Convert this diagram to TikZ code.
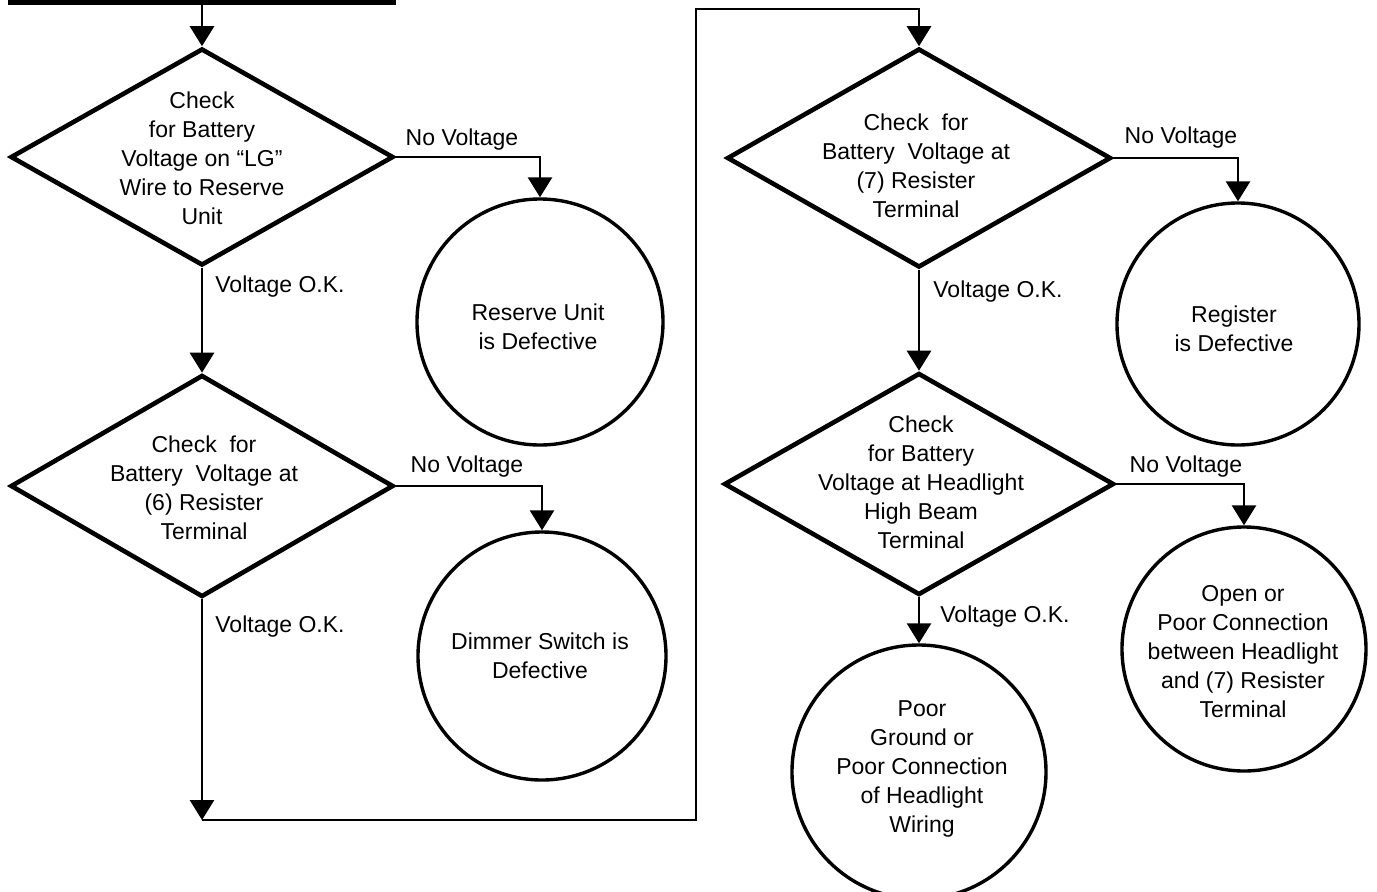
\documentclass[tikz,border=0pt]{standalone}
\usepackage{fontspec}
\setmainfont{Liberation Sans}
\usetikzlibrary{shapes.geometric,arrows.meta}
\begin{document}
\begin{tikzpicture}[x=0.5pt,y=-0.5pt,
  dia/.style={shape=diamond,draw,line width=2.3pt,inner sep=0pt},
  circ/.style={shape=circle,draw,line width=1.7pt,inner sep=0pt},
  txt/.style={font=\fontsize{11.5}{14.5}\selectfont,align=center,inner sep=0pt},
  lbl/.style={font=\fontsize{11.5}{14}\selectfont,inner sep=0pt},
  conn/.style={line width=1.4pt},
  arr/.style={conn,-{Triangle[width=12pt,length=10pt]}}]
\useasboundingbox (0,0) rectangle (1377,891);
\fill[white] (0,0) rectangle (1377,891);
\clip (0,0) rectangle (1377,891);

% truncated start box
\node[draw,line width=2.5pt,minimum width=383*0.5pt,minimum height=60*0.5pt,inner sep=0pt] (top) at (202,-28) {};

% decisions
\node[dia,minimum width=383*0.5pt,minimum height=217*0.5pt] (d1) at (202,157) {};
\node[dia,minimum width=383*0.5pt,minimum height=222*0.5pt] (d2) at (202,486) {};
\node[dia,minimum width=384*0.5pt,minimum height=219*0.5pt] (d3) at (919,158) {};
\node[dia,minimum width=390*0.5pt,minimum height=222*0.5pt] (d4) at (919,484) {};

% results
\node[circ,minimum size=246*0.5pt] (c1) at (540,322) {};
\node[circ,minimum size=248*0.5pt] (c2) at (542,656) {};
\node[circ,minimum size=242*0.5pt] (c3) at (1238,324) {};
\node[circ,minimum size=244*0.5pt] (c4) at (1244,649) {};
\node[circ,minimum size=254*0.5pt] (c5) at (919,772) {};

% texts
\node[txt] (t1) at (202,158) {Check\\for Battery\\Voltage on “LG”\\Wire to Reserve\\Unit};
\node[txt] (t2) at (204,488) {Check\ \ for\\Battery\ \ Voltage at\\(6) Resister\\Terminal};
\node[txt] (t3) at (916,166) {Check\ \ for\\Battery\ \ Voltage at\\(7) Resister\\Terminal};
\node[txt] (t4) at (921,482) {Check\\for Battery\\Voltage at Headlight\\High Beam\\Terminal};
\node[txt] (tc1) at (538,327) {Reserve Unit\\is Defective};
\node[txt] (tc2) at (540,656) {Dimmer Switch is\\Defective};
\node[txt] (tc3) at (1234,329) {Register\\is Defective};
\node[txt] (tc4) at (1243,652) {Open or\\Poor Connection\\between Headlight\\and (7) Resister\\Terminal};
\node[txt] (tc5) at (922,769) {Poor\\Ground or\\Poor Connection\\of Headlight\\Wiring};

% labels
\node[lbl] (n1) at (462,140) {No Voltage};
\node[lbl] (n2) at (467,467) {No Voltage};
\node[lbl] (n3) at (1181,138) {No Voltage};
\node[lbl] (n4) at (1186,467) {No Voltage};
\node[lbl,anchor=west] (v1) at (215,287) {Voltage O.K.};
\node[lbl,anchor=west] (v2) at (215,627) {Voltage O.K.};
\node[lbl,anchor=west] (v3) at (933,292) {Voltage O.K.};
\node[lbl,anchor=west] (v4) at (940,617) {Voltage O.K.};

% connectors
\coordinate (k0) at (202,820);
\coordinate (k1) at (696,820);
\coordinate (k2) at (696,9);
\draw[arr] (top.south) -- (d1.north);
\draw[arr] (d1.east) -| (c1.north);
\draw[arr] (d1.south) -- (d2.north);
\draw[arr] (d2.east) -| (c2.north);
\draw[arr] (d2.south) -- (k0);
\draw[arr] (k0) -- (k1) -- (k2) -| (d3.north);
\draw[arr] (d3.east) -| (c3.north);
\draw[arr] (d3.south) -- (d4.north);
\draw[arr] (d4.east) -| (c4.north);
\draw[arr] (d4.south) -- (c5.north);
\end{tikzpicture}
\end{document}
